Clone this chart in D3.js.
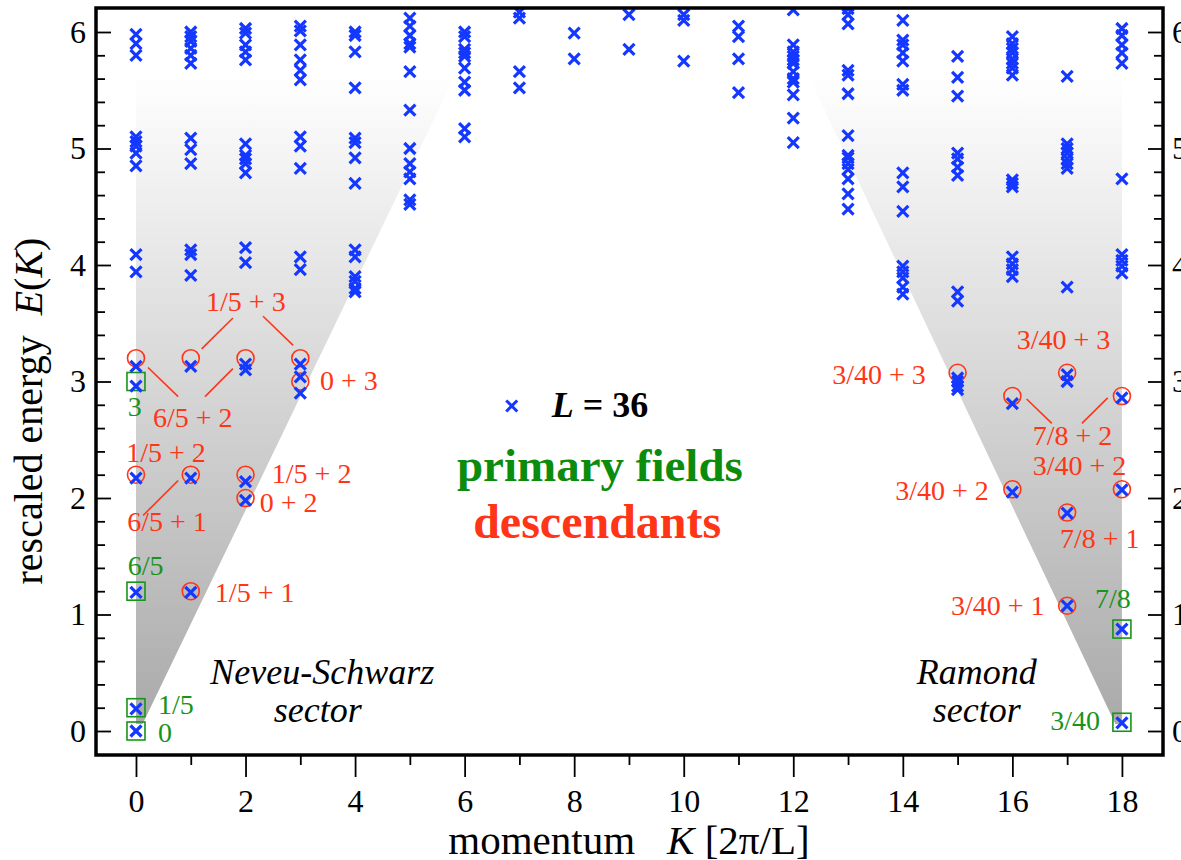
<!DOCTYPE html>
<html lang="en">
<head>
<meta charset="utf-8">
<title>Energy spectrum L = 36</title>
<script src="https://cdnjs.cloudflare.com/ajax/libs/d3/7.8.5/d3.min.js"></script>
<style>
    body { margin: 0; background: #fff; }
    text { font-family: "Liberation Serif", "Times New Roman", serif; }
</style>
</head>
<body>
<svg id="chart" width="1181" height="860"></svg>
<script>
// rescaled energies E(K), one list per momentum K = 0..18
var energies = [
    [5.98, 5.90, 5.80, 5.10, 5.06, 5.02, 4.96, 4.85, 4.09, 3.94, 3.13, 2.96, 2.17, 1.19, 0.19, 0.0],
    [6.00, 5.96, 5.92, 5.86, 5.80, 5.73, 5.09, 4.99, 4.87, 4.13, 4.09, 3.91, 3.13, 2.17, 1.19],
    [6.03, 5.99, 5.89, 5.83, 5.76, 5.04, 4.94, 4.91, 4.87, 4.79, 4.15, 4.02, 3.15, 3.10, 2.14, 1.98],
    [6.05, 6.01, 5.89, 5.76, 5.67, 5.59, 5.10, 5.02, 4.83, 4.07, 3.96, 3.15, 3.04, 2.90],
    [6.00, 5.97, 5.83, 5.52, 5.09, 5.05, 4.92, 4.70, 4.13, 4.07, 3.90, 3.86, 3.80, 3.77],
    [6.12, 6.05, 5.97, 5.90, 5.87, 5.66, 5.33, 5.00, 4.87, 4.80, 4.74, 4.56, 4.52],
    [6.00, 5.96, 5.85, 5.82, 5.79, 5.69, 5.57, 5.50, 5.17, 5.10],
    [6.17, 6.12, 5.66, 5.52],
    [5.99, 5.77],
    [6.15, 5.85],
    [6.15, 6.10, 5.75],
    [6.05, 5.96, 5.77, 5.48],
    [6.19, 5.89, 5.83, 5.79, 5.76, 5.73, 5.66, 5.60, 5.57, 5.46, 5.26, 5.05],
    [6.20, 6.15, 6.07, 5.67, 5.63, 5.47, 5.11, 4.94, 4.92, 4.87, 4.82, 4.74, 4.61, 4.48],
    [6.10, 5.93, 5.89, 5.82, 5.75, 5.55, 5.50, 4.79, 4.67, 4.46, 3.99, 3.94, 3.89, 3.81, 3.75],
    [5.79, 5.61, 5.45, 4.96, 4.91, 4.84, 4.77, 3.77, 3.69, 3.03, 3.00, 2.96, 2.93],
    [5.96, 5.90, 5.86, 5.82, 5.77, 5.73, 5.69, 5.63, 4.73, 4.70, 4.67, 4.07, 4.01, 3.96, 3.90, 2.81, 2.05],
    [5.62, 5.04, 5.00, 4.96, 4.91, 4.87, 4.83, 3.81, 3.06, 3.00, 1.87, 1.075],
    [6.03, 5.97, 5.89, 5.82, 5.73, 4.74, 4.09, 4.04, 3.99, 3.93, 2.86, 2.07, 0.875, 0.07]
];

// primary fields (green boxes)
var primK = [0, 0, 0, 0, 18, 18];
var primE = [0, 0.2, 1.2, 3.0, 0.075, 0.875];

// descendants (red circles)
var descK = [0, 1, 2, 3, 3, 0, 1, 2, 2, 1, 15, 17, 16, 18, 16, 18, 17, 17];
var descE = [3.2, 3.2, 3.2, 3.2, 3.0, 2.2, 2.2, 2.2, 2.0, 1.2, 3.075, 3.075, 2.875, 2.875, 2.075, 2.075, 1.875, 1.075];

// label text and anchor (K, E) of each annotation
var primNotes = [["3", -0.15, 2.70], ["6/5", -0.15, 1.34], ["1/5", 0.40, 0.15], ["0", 0.40, -0.094],
                 ["7/8", 17.51, 1.056], ["3/40", 16.69, 0.009]];
var descNotes = [
    ["1/5 + 3", 1.28, 3.605], ["6/5 + 2", 0.31, 2.61], ["0 + 3", 3.36, 2.93],
    ["1/5 + 2", -0.18, 2.31], ["1/5 + 2", 2.48, 2.13], ["0 + 2", 2.26, 1.88],
    ["6/5 + 1", -0.16, 1.72], ["1/5 + 1", 1.44, 1.11],
    ["3/40 + 3", 16.08, 3.28], ["3/40 + 3", 12.71, 2.98], ["7/8 + 2", 16.37, 2.455],
    ["3/40 + 2", 16.37, 2.20], ["3/40 + 2", 13.86, 1.98], ["7/8 + 1", 16.87, 1.57],
    ["3/40 + 1", 14.88, 1.0]
];
var leaders = [
    [1.77, 3.545, 1.20, 3.28], [2.32, 3.56, 2.87, 3.31],
    [0.22, 3.12, 0.77, 2.87], [1.26, 2.87, 1.77, 3.11],
    [0.13, 1.85, 0.77, 2.15],
    [16.26, 2.85, 16.72, 2.64], [17.27, 2.64, 17.74, 2.86]
];

// shaded sector wedges (K, E)
var nsWedge = [[0, 0.06], [0, 5.65], [5.85, 5.65], [0.12, 0.06]];
var rWedge = [[18, 0.06], [18, 5.65], [12.25, 5.65], [17.88, 0.06]];

var xMajor = d3.range(0, 19, 2);
var xMinor = d3.range(1, 18, 2);
var yMajor = d3.range(0, 7);
var yMinor = d3.range(0, 31).map(function (i) { return i / 5; })
    .filter(function (v) { return Math.abs(v - Math.round(v)) > 0.01; });

var blue = "#1438ff", red = "#ff3517", green = "#17941a";

var svg = d3.select("#chart");
var x = d3.scaleLinear().domain([-0.73, 18.75]).range([96, 1163]);
var y = d3.scaleLinear().domain([-0.206, 6.206]).range([755, 8]);

var defs = svg.append("defs");
var grad = defs.append("linearGradient").attr("id", "shade")
    .attr("gradientUnits", "userSpaceOnUse")
    .attr("x1", 0).attr("x2", 0).attr("y1", y(0)).attr("y2", y(5.65));
grad.append("stop").attr("offset", 0).attr("stop-color", "#a9a9a9");
grad.append("stop").attr("offset", 1).attr("stop-color", "#ffffff");
defs.append("clipPath").attr("id", "plotclip").append("rect")
    .attr("x", 96).attr("y", 8).attr("width", 1067).attr("height", 747);

var line = d3.line().x(function (d) { return x(d[0]); }).y(function (d) { return y(d[1]); });
svg.selectAll("path.wedge").data([nsWedge, rWedge]).enter().append("path")
    .attr("class", "wedge")
    .attr("d", function (d) { return line(d) + "Z"; })
    .attr("fill", "url(#shade)");

var plot = svg.append("g").attr("clip-path", "url(#plotclip)");

// primary boxes and descendant circles
plot.selectAll("rect.prim").data(primK).enter().append("rect")
    .attr("class", "prim")
    .attr("x", function (d) { return x(d) - 9; })
    .attr("y", function (d, i) { return y(primE[i]) - 9; })
    .attr("width", 18).attr("height", 18)
    .attr("fill", "none").attr("stroke", green).attr("stroke-width", 1.6);

plot.selectAll("circle.desc").data(descK).enter().append("circle")
    .attr("class", "desc")
    .attr("cx", function (d) { return x(d); })
    .attr("cy", function (d, i) { return y(descE[i]); })
    .attr("r", 8.5)
    .attr("fill", "none").attr("stroke", red).attr("stroke-width", 1.6);

// energy levels
var levels = [];
energies.forEach(function (list, k) {
    list.forEach(function (e) { levels.push({k: k, e: e}); });
});
var cross = "M-5.5,-5.5L5.5,5.5M-5.5,5.5L5.5,-5.5";
plot.selectAll("path.lvl").data(levels).enter().append("path")
    .attr("class", "lvl")
    .attr("d", cross)
    .attr("transform", function (d) { return "translate(" + x(d.k) + "," + y(d.e) + ")"; })
    .attr("fill", "none").attr("stroke", blue).attr("stroke-width", 3.2);

// annotations
svg.selectAll("line.leader").data(leaders).enter().append("line")
    .attr("class", "leader")
    .attr("x1", function (d) { return x(d[0]); }).attr("y1", function (d) { return y(d[1]); })
    .attr("x2", function (d) { return x(d[2]); }).attr("y2", function (d) { return y(d[3]); })
    .attr("stroke", red).attr("stroke-width", 1.6);

svg.selectAll("text.dnote").data(descNotes).enter().append("text")
    .attr("class", "dnote")
    .attr("x", function (d) { return x(d[1]); }).attr("y", function (d) { return y(d[2]); })
    .attr("fill", red).style("font-size", "28px")
    .text(function (d) { return d[0]; });

svg.selectAll("text.pnote").data(primNotes).enter().append("text")
    .attr("class", "pnote")
    .attr("x", function (d) { return x(d[1]); }).attr("y", function (d) { return y(d[2]); })
    .attr("fill", green).style("font-size", "28px")
    .text(function (d) { return d[0]; });

// sector names
var sectors = [["Neveu-Schwarz", 3.40, 0.40], ["sector", 3.32, 0.077], ["Ramond", 15.35, 0.40], ["sector", 15.35, 0.077]];
svg.selectAll("text.sector").data(sectors).enter().append("text")
    .attr("class", "sector")
    .attr("x", function (d) { return x(d[1]); }).attr("y", function (d) { return y(d[2]); })
    .attr("text-anchor", "middle").style("font-size", "36px").style("font-style", "italic")
    .text(function (d) { return d[0]; });

// legend
svg.append("path").attr("d", cross)
    .attr("transform", "translate(" + x(6.86) + "," + y(2.79) + ")")
    .attr("fill", "none").attr("stroke", blue).attr("stroke-width", 3);
var lt = svg.append("text").attr("x", x(7.59)).attr("y", y(2.695))
    .style("font-size", "36px").style("font-weight", "bold");
lt.append("tspan").style("font-style", "italic").text("L");
lt.append("tspan").text(" = 36");
svg.append("text").attr("x", x(8.47)).attr("y", y(2.146)).attr("text-anchor", "middle")
    .style("font-size", "47px").style("font-weight", "bold").attr("fill", "#0c8c0c")
    .text("primary fields");
svg.append("text").attr("x", x(8.42)).attr("y", y(1.657)).attr("text-anchor", "middle")
    .style("font-size", "48px").style("font-weight", "bold").attr("fill", red)
    .text("descendants");

// axes
function styleAxis(g) {
    g.select(".domain").remove();
    g.selectAll(".tick line").attr("stroke", "#000").attr("stroke-width", 1.8);
    g.selectAll(".tick text").style("font-family", "'Liberation Serif', serif").style("font-size", "32px").attr("fill", "#000");
}
svg.append("g").attr("transform", "translate(0,755)")
    .call(d3.axisBottom(x).tickValues(xMajor).tickSize(22).tickPadding(12).tickFormat(d3.format("d")))
    .call(styleAxis);
svg.append("g").attr("transform", "translate(0,755)")
    .call(d3.axisBottom(x).tickValues(xMinor).tickSize(10).tickFormat(""))
    .call(styleAxis);
svg.append("g").attr("transform", "translate(96,0)")
    .call(d3.axisLeft(y).tickValues(yMajor).tickSizeInner(-15).tickSizeOuter(0).tickPadding(10).tickFormat(d3.format("d")))
    .call(styleAxis);
svg.append("g").attr("transform", "translate(96,0)")
    .call(d3.axisLeft(y).tickValues(yMinor).tickSizeInner(-9).tickSizeOuter(0).tickFormat(""))
    .call(styleAxis);
svg.append("g").attr("transform", "translate(1163,0)")
    .call(d3.axisRight(y).tickValues(yMajor).tickSizeInner(-15).tickSizeOuter(0).tickPadding(9).tickFormat(d3.format("d")))
    .call(styleAxis);
svg.append("g").attr("transform", "translate(1163,0)")
    .call(d3.axisRight(y).tickValues(yMinor).tickSizeInner(-9).tickSizeOuter(0).tickFormat(""))
    .call(styleAxis);

svg.append("rect").attr("x", 96).attr("y", 8).attr("width", 1067).attr("height", 747)
    .attr("fill", "none").attr("stroke", "#000").attr("stroke-width", 3.5);

// axis titles
var xt = svg.append("text").attr("x", 629).attr("y", 854).attr("text-anchor", "middle").style("font-size", "41px");
xt.append("tspan").text("momentum");
xt.append("tspan").attr("dx", 32).style("font-style", "italic").text("K");
xt.append("tspan").text(" [2\u03c0/L]");

var yt = svg.append("text").attr("transform", "translate(42,411) rotate(-90)")
    .attr("text-anchor", "middle").style("font-size", "40px");
yt.append("tspan").text("rescaled energy");
yt.append("tspan").attr("dx", 20).style("font-style", "italic").text("E");
yt.append("tspan").text("(");
yt.append("tspan").style("font-style", "italic").text("K");
yt.append("tspan").text(")");
</script>
</body>
</html>
